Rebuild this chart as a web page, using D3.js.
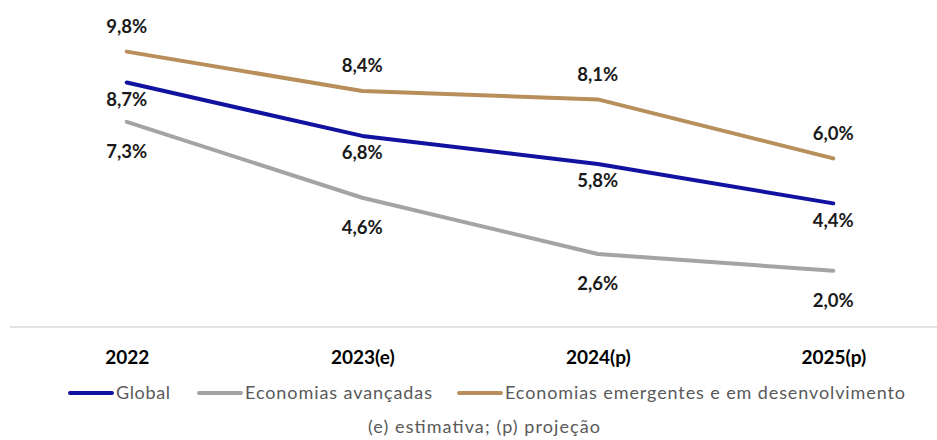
<!DOCTYPE html>
<html>
<head>
<meta charset="utf-8">
<script src="https://cdn.jsdelivr.net/npm/d3@7"></script>
<style>
  html, body { margin: 0; padding: 0; background: #fff; }
  svg { display: block; }
</style>
</head>
<body>
<svg id="chart" width="937" height="440"></svg>
<script>
// Categories and series (% growth)
const categories = ["2022", "2023(e)", "2024(p)", "2025(p)"];
const global = [8.7, 6.8, 5.8, 4.4];
const avancadas = [7.3, 4.6, 2.6, 2.0];
const emergentes = [9.8, 8.4, 8.1, 6.0];
const seriesNames = ["Global", "Economias avançadas", "Economias emergentes e em desenvolvimento"];
const footnote = "(e) estimativa; (p) projeção";

const series = [
  { name: seriesNames[0], values: global, color: "#1212a0", labelDy: 17 },
  { name: seriesNames[1], values: avancadas, color: "#a6a3a6", labelDy: 30 },
  { name: seriesNames[2], values: emergentes, color: "#b88f5a", labelDy: -25 }
];

const svg = d3.select("#chart");
const font = "Lato, 'Open Sans', sans-serif";

const x = d3.scalePoint().domain(categories).range([9, 951]).padding(0.5);
const y = d3.scaleLinear().domain([0, 10]).range([327, 46]);

// Baseline axis
svg.append("line")
  .attr("x1", 10).attr("x2", 937)
  .attr("y1", y(0)).attr("y2", y(0))
  .attr("stroke", "#d9d9d9").attr("stroke-width", 1.5);

// Category labels
const xAxis = d3.axisBottom(x).tickSize(0).tickPadding(0);
const gx = svg.append("g").attr("transform", `translate(0,${y(0)})`).call(xAxis);
gx.select(".domain").remove();
gx.selectAll("text")
  .attr("y", 30)
  .attr("dy", "0.35em")
  .attr("font-family", font)
  .attr("font-weight", "bold")
  .attr("font-size", 19)
  .attr("fill", "#000");

// Lines
const line = d3.line()
  .x((d, i) => x(categories[i]))
  .y(d => y(d));

series.forEach(s => {
  svg.append("path")
    .datum(s.values)
    .attr("d", line)
    .attr("fill", "none")
    .attr("stroke", s.color)
    .attr("stroke-width", 4)
    .attr("stroke-linecap", "round")
    .attr("stroke-linejoin", "round");
});

// Data labels
const fmt = v => d3.format(".1f")(v).replace(".", ",") + "%";
series.forEach(s => {
  svg.append("g").selectAll("text")
    .data(s.values)
    .join("text")
    .attr("x", (d, i) => x(categories[i]))
    .attr("y", d => y(d) + s.labelDy)
    .attr("dy", "0.35em")
    .attr("text-anchor", "middle")
    .attr("font-family", font)
    .attr("font-weight", "bold")
    .attr("font-size", 18.5)
    .attr("fill", "#1a1a1a")
    .text(fmt);
});

// Legend
const legendItems = [
  { s: series[0], x: 68, w: 54 },
  { s: series[1], x: 197, w: 187 },
  { s: series[2], x: 457, w: 400 }
];
const lg = svg.append("g").attr("transform", "translate(0,393)");
legendItems.forEach(item => {
  lg.append("line")
    .attr("x1", item.x + 2).attr("x2", item.x + 44)
    .attr("y1", 0).attr("y2", 0)
    .attr("stroke", item.s.color)
    .attr("stroke-width", 4)
    .attr("stroke-linecap", "round");
  lg.append("text")
    .attr("x", item.x + 48)
    .attr("y", 0)
    .attr("dy", "0.35em")
    .attr("font-family", font)
    .attr("font-size", 18)
    .attr("textLength", item.w)
    .attr("lengthAdjust", "spacing")
    .attr("fill", "#595959")
    .text(item.s.name);
});

// Footnote
svg.append("text")
  .attr("x", 484).attr("y", 427)
  .attr("dy", "0.35em")
  .attr("text-anchor", "middle")
  .attr("font-family", font)
  .attr("font-size", 18)
  .attr("textLength", 232)
  .attr("lengthAdjust", "spacing")
  .attr("fill", "#595959")
  .text(footnote);
</script>
</body>
</html>
